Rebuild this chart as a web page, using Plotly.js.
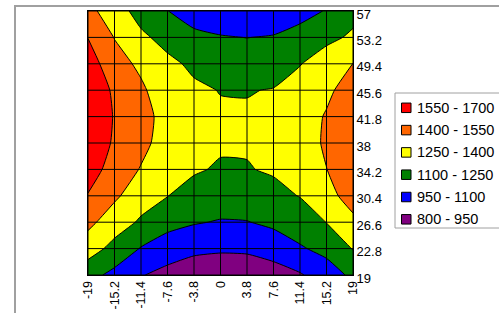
<!DOCTYPE html>
<html><head><meta charset="utf-8">
<script src="https://cdn.plot.ly/plotly-3.0.1.min.js"></script>
<style>html,body{margin:0;padding:0;background:#fff;}#chart{width:499px;height:313px;}</style>
</head><body><div id="chart"></div>
<script>
// grid coordinates
const xVals = [-19, -15.2, -11.4, -7.6, -3.8, 0, 3.8, 7.6, 11.4, 15.2, 19];
const yVals = [19, 22.8, 26.6, 30.4, 34.2, 38, 41.8, 45.6, 49.4, 53.2, 57];
const xTickText = ['-19', '-15.2', '-11.4', '-7.6', '-3.8', '0', '3.8', '7.6', '11.4', '15.2', '19'];
const yTickText = ['19', '22.8', '26.6', '30.4', '34.2', '38', '41.8', '45.6', '49.4', '53.2', '57'];

// z values, one row per y (bottom to top), columns follow xVals
const zY19   = [1150, 1060,  959,  903,  842,  831,  835,  880,  936, 1030, 1130];
const zY22_8 = [1320, 1203, 1091, 1028,  991,  974,  980, 1018, 1085, 1141, 1257];
const zY26_6 = [1437, 1322, 1230, 1146, 1111, 1090, 1095, 1129, 1173, 1253, 1360];
const zY30_4 = [1542, 1425, 1315, 1253, 1202, 1177, 1180, 1211, 1255, 1340, 1475];
const zY34_2 = [1618, 1490, 1391, 1300, 1264, 1236, 1243, 1265, 1304, 1398, 1490];
const zY38   = [1664, 1530, 1440, 1335, 1297, 1267, 1262, 1291, 1329, 1420, 1510];
const zY41_8 = [1680, 1540, 1468, 1330, 1301, 1270, 1262, 1288, 1328, 1412, 1505];
const zY45_6 = [1666, 1525, 1425, 1310, 1276, 1245, 1245, 1255, 1300, 1370, 1470];
const zY49_4 = [1621, 1460, 1370, 1285, 1221, 1192, 1180, 1198, 1245, 1310, 1403];
const zY53_2 = [1547, 1395, 1279, 1200, 1138, 1110, 1098, 1111, 1164, 1222, 1268];
const zY57   = [1443, 1320, 1193, 1103, 1026, 1001,  990,  995, 1040, 1110, 1215];

// contour bands (legend order, top to bottom)
const levelLabels = ['1550 - 1700', '1400 - 1550', '1250 - 1400', '1100 - 1250', '950 - 1100', '800 - 950'];
const levelColors = ['#FF0000', '#FF6600', '#FFFF00', '#008000', '#0000FF', '#800080'];
const levelStart = 950, levelEnd = 1550, levelStep = 150;

const zRows = [zY19, zY22_8, zY26_6, zY30_4, zY34_2, zY38, zY41_8, zY45_6, zY49_4, zY53_2, zY57];

// stepped colorscale (ascending bands)
const asc = levelColors.slice().reverse();
const n = asc.length;
const colorscale = [];
asc.forEach((c, i) => {
  const a = i === 0 ? 0 : (i - 0.5) / (n - 1);
  const b = i === n - 1 ? 1 : (i + 0.5) / (n - 1);
  colorscale.push([a, c]);
  colorscale.push([b, c]);
});

const W = 499, H = 313;
const M = {l: 88, r: 146, t: 11, b: 38};
const pw = W - M.l - M.r, ph = H - M.t - M.b;
const px2x = p => (p - M.l) / pw;
const py2y = p => (H - M.b - p) / ph;

const font = 'Liberation Sans, Arial, sans-serif';

const shapes = [];
// grid lines drawn above the filled contours
xVals.forEach(v => shapes.push({type: 'line', xref: 'x', yref: 'paper', x0: v, x1: v, y0: 0, y1: 1,
  line: {color: '#000', width: 1}, layer: 'above'}));
yVals.forEach(v => shapes.push({type: 'line', xref: 'paper', yref: 'y', x0: 0, x1: 1, y0: v, y1: v,
  line: {color: '#000', width: 1}, layer: 'above'}));
// outer frame
shapes.push({type: 'rect', xref: 'paper', yref: 'paper', x0: px2x(15), x1: px2x(540), y0: py2y(340), y1: py2y(6),
  line: {color: '#a0a0a0', width: 2}, fillcolor: 'rgba(0,0,0,0)', layer: 'below'});
// legend box
const legTop = 93, legBottom = 228, legLeft = 395;
shapes.push({type: 'rect', xref: 'paper', yref: 'paper', x0: px2x(legLeft), x1: px2x(540), y0: py2y(legBottom), y1: py2y(legTop),
  line: {color: '#a0a0a0', width: 1}, fillcolor: '#fff', layer: 'above'});

const annotations = [];
const itemY0 = 107.8, itemDy = 22.3;
levelLabels.forEach((lab, i) => {
  const cy = itemY0 + i * itemDy;
  shapes.push({type: 'rect', xref: 'paper', yref: 'paper', x0: px2x(401.5), x1: px2x(411), y0: py2y(cy + 4.75), y1: py2y(cy - 4.75),
    line: {color: '#000', width: 1}, fillcolor: levelColors[i], layer: 'above'});
  annotations.push({xref: 'paper', yref: 'paper', x: px2x(415), y: py2y(cy), xanchor: 'left', yanchor: 'middle',
    text: lab, showarrow: false, font: {family: font, size: 14.5, color: '#000'}});
});

const trace = {
  type: 'contour',
  x: xVals, y: yVals, z: zRows,
  autocontour: false,
  contours: {start: levelStart, end: levelEnd, size: levelStep, coloring: 'fill', showlines: true},
  colorscale: colorscale,
  showscale: false,
  line: {color: '#000', width: 1, smoothing: 0.5},
  hoverinfo: 'skip'
};

const layout = {
  width: W, height: H,
  margin: {l: M.l, r: M.r, t: M.t, b: M.b, pad: 0},
  paper_bgcolor: '#fff', plot_bgcolor: '#fff',
  showlegend: false,
  font: {family: font, size: 12.5, color: '#000'},
  xaxis: {range: [-19, 19], tickmode: 'array', tickvals: xVals, ticktext: xTickText, tickangle: -90,
    showgrid: false, zeroline: false, showline: true, mirror: true, linecolor: '#000', linewidth: 1,
    ticks: '', tickfont: {family: font, size: 12.5, color: '#000'}},
  yaxis: {range: [19, 57], side: 'right', tickmode: 'array', tickvals: yVals, ticktext: yTickText,
    showgrid: false, zeroline: false, showline: true, mirror: true, linecolor: '#000', linewidth: 1,
    ticks: '', ticklabelshift: 3, tickfont: {family: font, size: 13, color: '#000'}},
  shapes: shapes,
  annotations: annotations
};

Plotly.newPlot('chart', [trace], layout, {displayModeBar: false, staticPlot: true});
</script>
</body></html>
